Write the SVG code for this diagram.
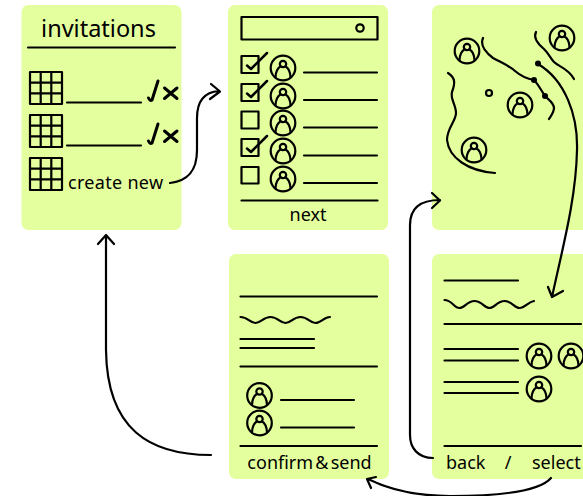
<svg xmlns="http://www.w3.org/2000/svg" xmlns:xlink="http://www.w3.org/1999/xlink" width="583" height="496" viewBox="0 0 583 496">
<style>
.card{fill:#e4ff9d}
.l{fill:none;stroke:#000;stroke-width:2.200;stroke-linecap:round;stroke-linejoin:round}
.c{fill:none;stroke:#000;stroke-width:2.200;stroke-linecap:round;stroke-linejoin:round}
.t{font-family:"Noto Sans","Open Sans",sans-serif;font-size:18px;fill:#000}
.d{fill:#000}
</style>
<defs>
<g id="person"><circle r="12.300" class="l"/><circle cy="-4" r="3.200" class="l"/><path class="l" d="M-7.500 9.500C-7.500 4-5-0.500-2.500-1.500M2.500-1.500C5-0.500 7.500 4 7.500 9.500"/></g>
<g id="grid"><rect x="0" y="0" width="32" height="32" class="l"/><path class="l" d="M10.700 0V32M21.300 0V32M0 10.700H32M0 21.300H32"/></g>
</defs>
<g id="invitations">
<rect class="card" x="21.500" y="5" width="160" height="225" rx="7"/>
<text class="t" x="98.500" y="37" text-anchor="middle" style="font-size:23.500px">invitations</text>
<path class="l" d="M28 47.500H175M67 102.500H141M67 145.500H141"/>
<use xlink:href="#grid" href="#grid" x="30" y="72"/>
<use xlink:href="#grid" href="#grid" x="30" y="115"/>
<use xlink:href="#grid" href="#grid" x="30" y="158"/>
<path class="l" style="stroke-width:3" d="M148.500 98Q150 101.500 152 100L158 81M164.500 88L177 98.500M177 88L164.500 98.500M148.500 141Q150 144.500 152 143L158 124M164.500 131L177 141.500M177 131L164.500 141.500"/>
<text class="t" x="68" y="189" style="letter-spacing:.3px">create new</text>
</g>
<g id="next">
<rect class="card" x="228" y="5" width="160" height="225" rx="7"/>
<rect class="l" x="241.500" y="17" width="136" height="22.500"/>
<circle class="l" cx="360" cy="28" r="3.700"/>
<rect class="l" x="241.500" y="56" width="17" height="17"/>
<rect class="l" x="241.500" y="84" width="17" height="17"/>
<rect class="l" x="241.500" y="111.500" width="17" height="17"/>
<rect class="l" x="241.500" y="139" width="17" height="17"/>
<rect class="l" x="241.500" y="167" width="17" height="16.500"/>
<path class="l" style="stroke-width:2.500" d="M247 65.500L251 69L267 53M247 93.500L251 97L267 81M247 148.500L251 152L267 136"/>
<use xlink:href="#person" href="#person" x="283" y="68"/>
<use xlink:href="#person" href="#person" x="283" y="96"/>
<use xlink:href="#person" href="#person" x="283" y="123"/>
<use xlink:href="#person" href="#person" x="283" y="151"/>
<use xlink:href="#person" href="#person" x="283" y="179"/>
<path class="l" d="M304 72.500H377M304 100H377M304 127.500H377M304 155.500H377M304 183H377M241.500 200.500H377.500"/>
<text class="t" x="308" y="221" text-anchor="middle">next</text>
</g>
<g id="map">
<rect class="card" x="432" y="5" width="160" height="225" rx="7"/>
<use xlink:href="#person" href="#person" x="467" y="51"/>
<use xlink:href="#person" href="#person" x="562" y="38"/>
<use xlink:href="#person" href="#person" x="520" y="105"/>
<use xlink:href="#person" href="#person" x="474" y="150"/>
<circle class="l" cx="489" cy="93" r="3"/>
<path class="l" d="M483 38C480 45 485 52 493 58C502 63 508 65 515 71C522 77 528 79 534 80C538 84 541 90 545 96C549 100 554 103 554 108C554 112 551 116 549 119"/>
<path class="l" d="M536 32C533 38 538 44 544 49C549 54 551 59 554 62C559 67 568 68 574 79"/>
<path class="l" d="M448 73C456 78 455 84 452 92C450 99 456 105 456 113C456 121 447 128 447 140C449 158 468 171 495 173"/>
<circle class="d" cx="534" cy="80" r="3"/><circle class="d" cx="545" cy="96" r="3"/><circle class="d" cx="538" cy="63.500" r="3"/>
</g>
<g id="confirm">
<rect class="card" x="229" y="254" width="160" height="225" rx="7"/>
<path class="l" d="M240.500 296.500H377M240.500 339H314M240.500 348H314M240.500 366.500H377M281 400H354M281 427.500H354M240.500 446H377"/>
<path class="l" d="M240.500 317C248 317 250 323 255.500 323C261 323 263 317 270.500 317C278 317 280 323 285.500 323C291 323 293 317 300.500 317C308 317 310 323 315.500 323C321 323 324 317 330 317"/>
<use xlink:href="#person" href="#person" x="259.500" y="395.500"/>
<use xlink:href="#person" href="#person" x="259.500" y="423"/>
<text class="t" x="309.500" y="469" text-anchor="middle" style="word-spacing:-2.500px">confirm &amp; send</text>
</g>
<g id="select">
<rect class="card" x="432" y="254" width="160" height="225" rx="7"/>
<path class="l" d="M444.500 280.500H518M444.500 324H581M444.500 349H518M444.500 360.500H518M444.500 382H518M444.500 393H518M444.500 446H581"/>
<path class="l" d="M444.500 300C452 300 454 308 459.500 308C465 308 467 301 474.500 301C482 301 484 308 489.500 308C495 308 497 301 504.500 301C512 301 514 308 519.500 308C525 308 528 302 534 301"/>
<use xlink:href="#person" href="#person" x="539" y="356"/>
<use xlink:href="#person" href="#person" x="571" y="356"/>
<use xlink:href="#person" href="#person" x="539" y="389"/>
<text class="t" x="446" y="469">back</text>
<text class="t" x="508" y="469" text-anchor="middle">/</text>
<text class="t" x="532" y="469">select</text>
</g>
<g id="connectors">
<path class="c" d="M170 183C187 181 197 172 197 150V118C197 100 205 92 219 91M211 84L220 91.500L210 99"/>
<path class="c" d="M538 64C565 80 578 115 577 150C576 200 562 250 552 297M548 287L552 297L563 291"/>
<path class="c" d="M433 458C418 458 410 448 410 435V225C410 208 420 200 440 200M432 193L440 200.500L432 208"/>
<path class="c" d="M551 478C540 491 500 496 450 496C420 496 390 490 368 479M376 477L367 479L371 488"/>
<path class="c" d="M211 455C150 455 107 430 106 350L106 235M98 244L106 235L114 244"/>
</g>
</svg>
